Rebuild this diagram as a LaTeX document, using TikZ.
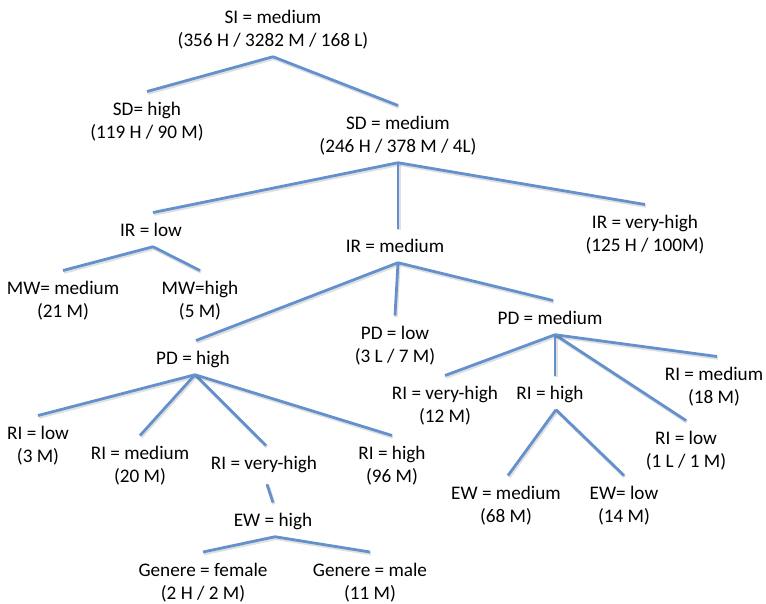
\documentclass[tikz,border=0pt]{standalone}
\usepackage{fontspec}
\setmainfont{Carlito}
\definecolor{edgeblue}{RGB}{100,145,205}
\begin{document}
\begin{tikzpicture}[x=1pt,y=-1pt,
  lbl/.style={anchor=north, align=center, inner xsep=2pt, inner ysep=10.5pt,
    font=\fontsize{19.2}{23}\selectfont,
    execute at begin node={\rule{0pt}{13pt}},
    execute at end node={\rule[-4pt]{0pt}{4pt}}},
  edge/.style={draw=edgeblue, line width=2.8pt,
    preaction={draw=black, opacity=0.12, line width=3.4pt,
      transform canvas={shift={(1pt,-1.6pt)}}}}]
\useasboundingbox (0,0) rectangle (766,603);

% nodes (anchor north = tip of incoming line)
\node[lbl] (SI)   at (273,-0.5) {SI = medium\\(356 H / 3282 M / 168 L)};
\node[lbl] (SDh)  at (147,91.5)  {SD= high\\(119 H / 90 M)};
\node[lbl] (SDm)  at (398,105.5) {SD = medium\\(246 H / 378 M / 4L)};
\node[lbl] (IRl)  at (151,212.5) {IR = low};
\node[lbl] (IRm)  at (395,228.5) {IR = medium};
\node[lbl] (IRv)  at (645,204.5) {IR = very-high\\(125 H / 100M)};
\node[lbl] (MWm)  at (63,270.5)  {MW= medium\\(21 M)};
\node[lbl] (MWh)  at (200,270.5) {MW=high\\(5 M)};
\node[lbl] (PDh)  at (193,340.5) {PD = high};
\node[lbl] (PDl)  at (395,315.5) {PD = low\\(3 L / 7 M)};
\node[lbl] (PDm)  at (550,300.5) {PD = medium};
\node[lbl] (RIl)  at (38,415.5)  {RI = low\\(3 M)};
\node[lbl] (RIm)  at (140,435.5) {RI = medium\\(20 M)};
\node[lbl] (RIvh) at (264,445.5) {RI = very-high};
\node[lbl] (RIh)  at (392,435.5) {RI = high\\(96 M)};
\node[lbl] (EWh)  at (273,502.5) {EW = high};
\node[lbl] (Gf)   at (203,552) {Genere = female\\(2 H / 2 M)};
\node[lbl] (Gm)   at (370,552) {Genere = male\\(11 M)};
\node[lbl] (RIvr) at (445,375.5) {RI = very-high\\(12 M)};
\node[lbl] (RIhr) at (550,375.5) {RI = high};
\node[lbl] (RIlr) at (686,420.5) {RI = low\\(1 L / 1 M)};
\node[lbl] (RImr) at (714,356.5) {RI = medium\\(18 M)};
\node[lbl] (EWm)  at (506,475.5) {EW = medium\\(68 M)};
\node[lbl] (EWl)  at (624,475.5) {EW= low\\(14 M)};

% apex coordinates below parent nodes
\coordinate (SIa)   at ([yshift=4.5pt]SI.south);
\coordinate (SDma)  at ([yshift=4.5pt]SDm.south);
\coordinate (IRla)  at ([xshift=2pt,yshift=4.5pt]IRl.south);
\coordinate (IRma)  at ([xshift=3pt,yshift=4.5pt]IRm.south);
\coordinate (PDha)  at ([xshift=2pt,yshift=4.5pt]PDh.south);
\coordinate (PDma)  at ([xshift=5pt,yshift=4.5pt]PDm.south);
\coordinate (RIva)  at ([xshift=3pt,yshift=0pt]RIvh.south);
\coordinate (EWha)  at ([xshift=2pt,yshift=4.5pt]EWh.south);
\coordinate (RIhra) at ([xshift=6pt,yshift=4.5pt]RIhr.south);

% connectors
\draw[edge] (SIa) -- (SDh.north);
\draw[edge] (SIa) -- (SDm.north);
\draw[edge] (SDma) -- ([xshift=2pt]IRl.north);
\draw[edge] (SDma) -- ([xshift=3pt]IRm.north);
\draw[edge] (SDma) -- (IRv.north);
\draw[edge] (IRla) -- (MWm.north);
\draw[edge] (IRla) -- (MWh.north);
\draw[edge] (IRma) -- ([xshift=3pt]PDh.north);
\draw[edge] (IRma) -- (PDl.north);
\draw[edge] (IRma) -- ([xshift=3pt]PDm.north);
\draw[edge] (PDha) -- (RIl.north);
\draw[edge] (PDha) -- (RIm.north);
\draw[edge] (PDha) -- ([xshift=2pt]RIvh.north);
\draw[edge] (PDha) -- (RIh.north);
\draw[edge] (RIva) -- (EWh.north);
\draw[edge] (EWha) -- (Gf.north);
\draw[edge] (EWha) -- (Gm.north);
\draw[edge] (PDma) -- (RIvr.north);
\draw[edge] (PDma) -- ([xshift=5pt]RIhr.north);
\draw[edge] (PDma) -- (RIlr.north);
\draw[edge] (PDma) -- ([xshift=3pt]RImr.north);
\draw[edge] (RIhra) -- ([xshift=2pt]EWm.north);
\draw[edge] (RIhra) -- (EWl.north);
\end{tikzpicture}
\end{document}
